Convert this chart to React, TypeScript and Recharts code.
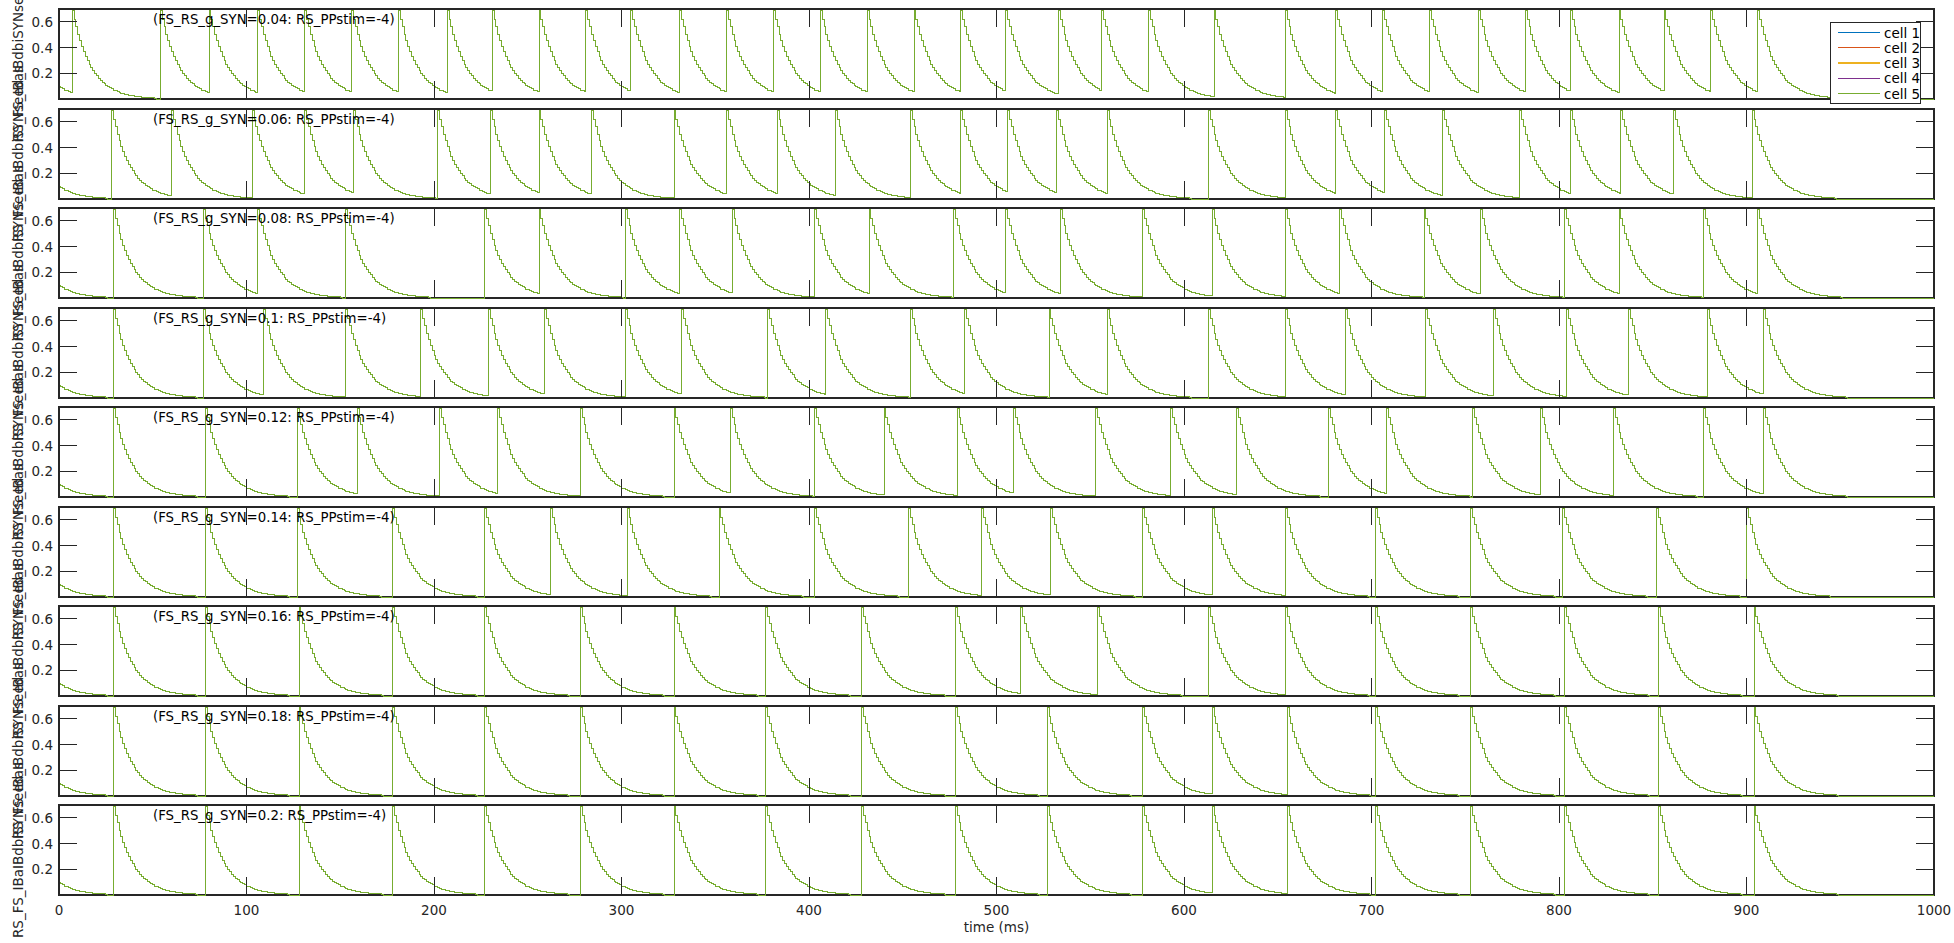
import { LineChart, Line, XAxis, YAxis } from "recharts";

// panel parameters
const G_SYN = [0.04, 0.06, 0.08, 0.1, 0.12, 0.14, 0.16, 0.18, 0.2];
const PP_STIM = -4;

const CELLS = ["cell 1", "cell 2", "cell 3", "cell 4", "cell 5"];
const CELL_COLORS = ["#0072BD", "#D95319", "#EDB120", "#7E2F8E", "#77AC30"];

const X_TICKS = [0, 100, 200, 300, 400, 500, 600, 700, 800, 900, 1000];
const Y_TICKS = [0.2, 0.4, 0.6];

// synaptic gate right after a spike at 1 ms steps
const KERNEL = [
  0.69, 0.622, 0.561, 0.505, 0.456, 0.411, 0.37, 0.334, 0.301, 0.271,
  0.245, 0.22, 0.199, 0.179, 0.162, 0.146, 0.131, 0.118, 0.107, 0.096,
  0.087, 0.078, 0.07, 0.063, 0.057, 0.052, 0.046, 0.042, 0.038, 0.034,
  0.031, 0.028, 0.025, 0.022, 0.02, 0.018, 0.016, 0.015, 0.013, 0.012,
  0.011, 0.01, 0.009, 0.008, 0.007,
];
const PRIOR_SPIKE = -19; // trace starts mid-decay at ~0.1

// spike times (ms), one list per panel
const SPIKES_1 = [7, 54, 80, 106, 131, 156, 181, 207, 231, 256, 281, 305, 331, 356, 381, 406, 431, 456, 481, 505, 533, 556, 581, 616, 654, 681, 706, 731, 757, 782, 806, 832, 856, 881, 906];
const SPIKES_2 = [28, 60, 103, 131, 157, 202, 230, 256, 284, 328, 356, 383, 414, 454, 481, 506, 532, 559, 613, 654, 681, 707, 738, 779, 806, 833, 861, 903];
const SPIKES_3 = [29, 77, 106, 153, 227, 256, 302, 331, 359, 403, 432, 477, 505, 534, 578, 615, 654, 683, 728, 758, 803, 832, 877, 906];
const SPIKES_4 = [29, 77, 109, 153, 193, 229, 259, 302, 332, 378, 409, 454, 483, 528, 559, 613, 654, 686, 729, 765, 804, 837, 879, 909];
const SPIKES_5 = [29, 78, 127, 159, 203, 234, 278, 328, 358, 403, 440, 479, 509, 553, 593, 628, 677, 708, 754, 790, 829, 877, 909];
const SPIKES_6 = [29, 78, 127, 178, 227, 262, 303, 352, 403, 453, 492, 529, 578, 615, 654, 702, 753, 802, 852, 900];
const SPIKES_7 = [29, 78, 128, 178, 227, 278, 328, 377, 428, 478, 513, 554, 613, 654, 702, 753, 803, 853, 904];
const SPIKES_8 = [29, 78, 128, 178, 227, 278, 328, 377, 428, 478, 527, 578, 615, 655, 702, 753, 803, 853, 904];
const SPIKES_9 = [29, 78, 128, 178, 227, 278, 328, 377, 428, 478, 527, 578, 615, 655, 702, 753, 803, 853, 904];

const SPIKES = [SPIKES_1, SPIKES_2, SPIKES_3, SPIKES_4, SPIKES_5, SPIKES_6, SPIKES_7, SPIKES_8, SPIKES_9];

const AXIS = "#262626";
const FONT = "DejaVu Sans";
const PLOT_LEFT = 59;
const PLOT_W = 1875;
const PLOT_H = 90;
const TICK_LEN = 18;
const Y_LABEL = "RS_FS_IBaIBdbiSYNseed_s";

const panelTop = (i: number) => Math.round(9 + i * 99.55);

function buildRows(spikes: number[]) {
  const rows = [];
  for (let t = 0; t <= 1000; t++) {
    let last = PRIOR_SPIKE;
    for (const s of spikes) if (s <= t) last = s;
    const k = t - last;
    const v = k < KERNEL.length ? KERNEL[k] : 0;
    rows.push({ t, c1: v, c2: v, c3: v, c4: v, c5: v });
  }
  return rows;
}

function Panel({ index }: { index: number }) {
  const data = buildRows(SPIKES[index]);
  const last = index === SPIKES.length - 1;
  const top = panelTop(index);

  const xTick = (props: any) => {
    const { x, payload } = props;
    return (
      <g>
        <line x1={x} x2={x} y1={0} y2={TICK_LEN} stroke={AXIS} strokeWidth={1} shapeRendering="crispEdges" />
        <line x1={x} x2={x} y1={PLOT_H} y2={PLOT_H - TICK_LEN} stroke={AXIS} strokeWidth={1} shapeRendering="crispEdges" />
        {last && (
          <text x={x} y={PLOT_H + 15} textAnchor="middle" dominantBaseline="central"
            fontFamily={FONT} fontSize={13.5} fill={AXIS}>
            {payload.value}
          </text>
        )}
      </g>
    );
  };

  const yTick = (props: any) => {
    const { y, payload } = props;
    return (
      <g>
        <line x1={PLOT_LEFT} x2={PLOT_LEFT + TICK_LEN} y1={y} y2={y} stroke={AXIS} strokeWidth={1} shapeRendering="crispEdges" />
        <line x1={PLOT_LEFT + PLOT_W - TICK_LEN} x2={PLOT_LEFT + PLOT_W} y1={y} y2={y} stroke={AXIS} strokeWidth={1} shapeRendering="crispEdges" />
        <text x={PLOT_LEFT - 6} y={y} textAnchor="end" dominantBaseline="central"
          fontFamily={FONT} fontSize={13.5} fill={AXIS}>
          {payload.value}
        </text>
      </g>
    );
  };

  return (
    <>
      <div
        style={{
          position: "absolute",
          left: PLOT_LEFT - 1,
          top: top - 1,
          width: PLOT_W + 2,
          height: PLOT_H + 2,
          border: `2px solid ${AXIS}`,
          boxSizing: "border-box",
        }}
      />
      <div style={{ position: "absolute", left: 0, top }}>
        <LineChart width={1954} height={PLOT_H + 40} data={data}
          margin={{ top: 0, right: 20, bottom: 0, left: 0 }}>
          <XAxis dataKey="t" type="number" domain={[0, 1000]} ticks={X_TICKS} interval={0}
            height={40} axisLine={false} tickLine={false} tick={xTick} />
          <YAxis type="number" domain={[0, 0.7]} ticks={Y_TICKS} interval={0} width={59}
            axisLine={false} tickLine={false} tick={yTick} />
          {CELLS.map((c, i) => (
            <Line key={c} type="stepAfter" dataKey={`c${i + 1}`} name={c}
              stroke={CELL_COLORS[i]} strokeWidth={1} dot={false} isAnimationActive={false} />
          ))}
        </LineChart>
      </div>
    </>
  );
}

export default function App() {
  return (
    <div style={{ position: "absolute", left: 0, top: 0, width: 1954, height: 943, background: "#fff", overflow: "hidden" }}>
      <style>{`.recharts-line path { shape-rendering: crispEdges; }`}</style>
      {SPIKES.map((_, i) => (
        <Panel key={i} index={i} />
      ))}
      <svg width={1954} height={943} style={{ position: "absolute", left: 0, top: 0, pointerEvents: "none" }}>
        {G_SYN.map((g, i) => (
          <g key={i}>
            <text x={153} y={panelTop(i) + 10} dominantBaseline="central" fontFamily={FONT} fontSize={13.3} fill="#000">
              {`(FS_RS_g_SYN=${g}: RS_PPstim=${PP_STIM})`}
            </text>
            <text x={23} y={panelTop(i) + PLOT_H / 2} transform={`rotate(-90, 23, ${panelTop(i) + PLOT_H / 2})`}
              textAnchor="middle" fontFamily={FONT} fontSize={13.5} fill={AXIS}>
              {Y_LABEL}
            </text>
          </g>
        ))}
        <text x={PLOT_LEFT + PLOT_W / 2} y={927} textAnchor="middle" dominantBaseline="central"
          fontFamily={FONT} fontSize={13.5} fill={AXIS}>
          time (ms)
        </text>
        <g>
          <rect x={1830.5} y={22.5} width={90} height={81} fill="#fff" stroke={AXIS} strokeWidth={1} />
          {CELLS.map((c, i) => (
            <g key={c}>
              <line x1={1838} x2={1880} y1={32.5 + i * 15.2} y2={32.5 + i * 15.2} stroke={CELL_COLORS[i]}
                strokeWidth={1.2} shapeRendering="crispEdges" />
              <text x={1884} y={32.7 + i * 15.2} dominantBaseline="central" fontFamily={FONT} fontSize={13.5} fill="#000">
                {c}
              </text>
            </g>
          ))}
        </g>
      </svg>
    </div>
  );
}
